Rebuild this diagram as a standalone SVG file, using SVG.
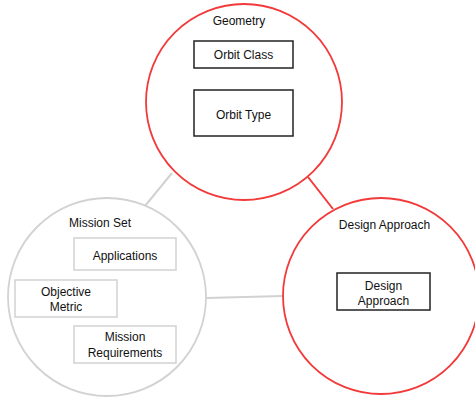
<svg xmlns="http://www.w3.org/2000/svg" width="475" height="400" viewBox="0 0 475 400">
  <style>
    .ring-red { fill: #ffffff; stroke: #f23a3a; stroke-width: 1.8; }
    .ring-gray { fill: #ffffff; stroke: #d2d2d2; stroke-width: 1.8; }
    .box-dark { fill: #ffffff; stroke: #222222; stroke-width: 1.5; }
    .box-light { fill: #ffffff; stroke: #d2d2d2; stroke-width: 1.5; }
    .link-gray { stroke: #d2d2d2; stroke-width: 2; fill: none; }
    .link-red { stroke: #f23a3a; stroke-width: 2; fill: none; }
    text { font-family: "Liberation Sans", Arial, sans-serif; font-size: 12px; fill: #111111; text-anchor: middle; }
  </style>

  <rect width="475" height="400" fill="#ffffff"/>

  <!-- connectors between the circles -->
  <g id="connectors">
    <line class="link-gray" x1="172" y1="173" x2="145" y2="206"/>
    <line class="link-red" x1="308" y1="177" x2="333" y2="209"/>
    <line class="link-gray" x1="206" y1="298" x2="283" y2="296"/>
  </g>

  <!-- Geometry -->
  <g id="geometry">
    <circle class="ring-red" cx="244" cy="102" r="98"/>
    <text x="239" y="25">Geometry</text>
    <g id="orbit-class">
      <rect class="box-dark" x="194" y="41" width="99" height="27"/>
      <text x="243.5" y="59">Orbit Class</text>
    </g>
    <g id="orbit-type">
      <rect class="box-dark" x="194" y="90" width="99" height="46"/>
      <text x="243.5" y="119">Orbit Type</text>
    </g>
  </g>

  <!-- Mission Set -->
  <g id="mission-set">
    <circle class="ring-gray" cx="107" cy="297" r="99"/>
    <text x="100" y="227">Mission Set</text>
    <g id="applications">
      <rect class="box-light" x="74" y="238" width="102" height="32"/>
      <text x="125" y="260">Applications</text>
    </g>
    <g id="objective-metric">
      <rect class="box-light" x="15" y="280" width="102" height="37"/>
      <text x="66" y="296">Objective</text>
      <text x="66" y="311">Metric</text>
    </g>
    <g id="mission-requirements">
      <rect class="box-light" x="74" y="326" width="102" height="37"/>
      <text x="125" y="341">Mission</text>
      <text x="125" y="357">Requirements</text>
    </g>
  </g>

  <!-- Design Approach -->
  <g id="design-approach">
    <circle class="ring-red" cx="381" cy="296" r="98"/>
    <text x="384.5" y="229">Design Approach</text>
    <g id="design-approach-box">
      <rect class="box-dark" x="337" y="273" width="93" height="37"/>
      <text x="383.5" y="290">Design</text>
      <text x="383.5" y="305">Approach</text>
    </g>
  </g>
</svg>
